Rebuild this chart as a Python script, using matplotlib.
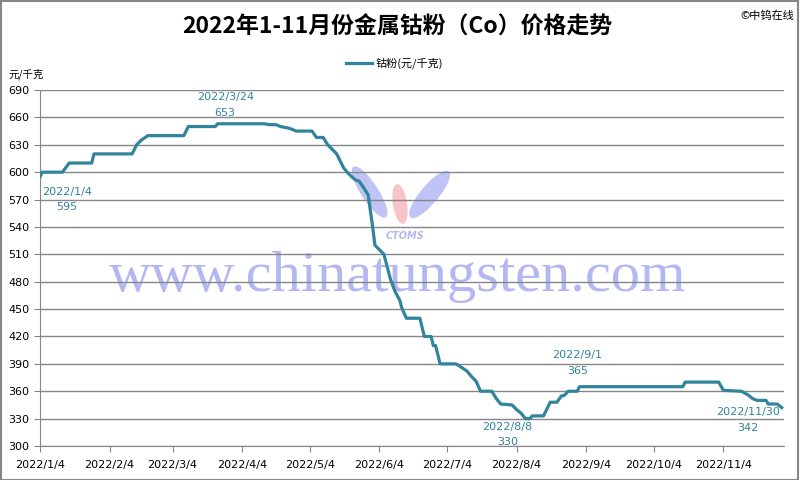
import matplotlib
matplotlib.use('Agg')
import matplotlib.pyplot as plt
from matplotlib.patches import Rectangle, Ellipse
import pandas as pd

cjk = ['Noto Sans CJK SC', 'DejaVu Sans']

# price breakpoints (yuan/kg)
dates = ['2022-01-04', '2022-01-05', '2022-01-14', '2022-01-17', '2022-01-27', '2022-01-28',
         '2022-02-14', '2022-02-16', '2022-02-18', '2022-02-21', '2022-03-09', '2022-03-11',
         '2022-03-23', '2022-03-24', '2022-04-14', '2022-04-16', '2022-04-19', '2022-04-21',
         '2022-04-25', '2022-04-28', '2022-05-05', '2022-05-07', '2022-05-10', '2022-05-12',
         '2022-05-14', '2022-05-16', '2022-05-19', '2022-05-21', '2022-05-24', '2022-05-26',
         '2022-05-28', '2022-05-30', '2022-06-01', '2022-06-02', '2022-06-06', '2022-06-09',
         '2022-06-11', '2022-06-13', '2022-06-14', '2022-06-16', '2022-06-22', '2022-06-24',
         '2022-06-27', '2022-06-28', '2022-06-29', '2022-07-01', '2022-07-08', '2022-07-10',
         '2022-07-13', '2022-07-15', '2022-07-17', '2022-07-19', '2022-07-24', '2022-07-26',
         '2022-07-28', '2022-08-02', '2022-08-04', '2022-08-06', '2022-08-08', '2022-08-10',
         '2022-08-11', '2022-08-16', '2022-08-19', '2022-08-22', '2022-08-24', '2022-08-25',
         '2022-08-27', '2022-08-31', '2022-09-01', '2022-10-17', '2022-10-18', '2022-11-02',
         '2022-11-04', '2022-11-12', '2022-11-15', '2022-11-17', '2022-11-19', '2022-11-23',
         '2022-11-24', '2022-11-28', '2022-11-30']
prices = [595, 600, 600, 610, 610, 620,
          620, 630, 635, 640, 640, 650,
          650, 653, 653, 652, 652, 650,
          648, 645, 645, 638, 638, 630,
          625, 620, 605, 599, 592, 590,
          583, 575, 540, 520, 510, 482,
          469, 460, 451, 440, 440, 420,
          420, 410, 410, 390, 390, 387,
          382, 376, 371, 360, 360, 352,
          346, 345, 340, 336, 330, 330,
          333, 333, 348, 348, 355, 355,
          360, 360, 365, 365, 370, 370,
          361, 360, 356, 352, 350, 350,
          346, 346, 342]

# labelled points: date, value, offsets (px) of date line and value line
labels = [('2022-01-04', 595, (27, -15), (27, -30)),
          ('2022-03-24', 653, (8, 27), (7, 11)),
          ('2022-08-08', 330, (-18, -8), (-18, -23)),
          ('2022-09-01', 365, (-2, 32), (-2, 16)),
          ('2022-11-30', 342, (-34, -4), (-34, -20))]

line_color = '#31849B'
x = pd.to_datetime(dates)

fig = plt.figure(figsize=(8, 4.8), dpi=100)
ax = fig.add_axes([0.05, 0.0708, 0.93, 0.7417])
ax.patch.set_visible(False)

ax.plot(x, prices, color=line_color, lw=2.3, solid_joinstyle='round', zorder=3)

ax.set_ylim(300, 690)
ax.set_yticks(range(300, 691, 30))
ax.set_xlim(pd.Timestamp('2022-01-04'), pd.Timestamp('2022-12-01'))
ticks = pd.date_range('2022-01-01', '2022-11-04', freq='MS') + pd.Timedelta(days=3)
ax.set_xticks(ticks)
ax.set_xticklabels([f'{d.year}/{d.month}/{d.day}' for d in ticks])

ax.grid(axis='y', color='#868686', lw=1)
ax.set_axisbelow(True)
for s in ['top', 'right']:
    ax.spines[s].set_visible(False)
for s in ['left', 'bottom']:
    ax.spines[s].set_color('#868686')
ax.tick_params(axis='both', labelsize=8, length=4, color='#868686', colors='black')
ax.tick_params(axis='x', pad=6)

for d, v, o1, o2 in labels:
    t = pd.Timestamp(d)
    lab = f'{t.year}/{t.month}/{t.day}'
    ax.annotate(lab, xy=(t, v), xytext=o1, textcoords='offset pixels',
                ha='center', va='center', fontsize=8, color=line_color, annotation_clip=False)
    ax.annotate(str(v), xy=(t, v), xytext=o2, textcoords='offset pixels',
                ha='center', va='center', fontsize=8, color=line_color, annotation_clip=False)

# watermark, behind the axes
fig.text(0.4975, 0.394, 'www.chinatungsten.com', family='Liberation Serif', fontsize=42,
         color='#b4b8f2', ha='center', va='baseline', zorder=-1)
fig.text(0.506, 0.508, 'CTOMS', fontsize=7, fontweight='bold', style='italic',
         color='#b4b8f2', ha='center', va='center', zorder=-1)
for cx, cy, w, h, ang, col in [(0.462, 0.6, 0.022, 0.11, 20, '#c0c3f6'),
                               (0.5, 0.575, 0.016, 0.08, 5, '#f8c4c8'),
                               (0.537, 0.595, 0.024, 0.105, -25, '#c0c3f6')]:
    fig.patches.append(Ellipse((cx, cy), w, h, angle=ang, transform=fig.transFigure,
                               color=col, zorder=-1))

# titles and legend
fig.text(0.497, 0.944, '2022年1-11月份金属钴粉（Co）价格走势', family=cjk, fontsize=16.5,
         fontweight='bold', ha='center', va='center')
fig.text(0.993, 0.968, '©中钨在线', family=cjk, fontsize=8, ha='right', va='center')
fig.text(0.01, 0.845, '元/千克', family=cjk, fontsize=7.5, ha='left', va='center')
fig.lines.append(plt.Line2D([0.433, 0.465], [0.868, 0.868], transform=fig.transFigure,
                            color=line_color, lw=2.3))
fig.text(0.469, 0.868, '钴粉(元/千克)', family=cjk, fontsize=8, ha='left', va='center')

fig.patches.append(Rectangle((0.001, 0.001), 0.997, 0.997, transform=fig.transFigure,
                             fill=False, edgecolor='#868686', lw=1.5))

fig.savefig('out.png', dpi=100)
